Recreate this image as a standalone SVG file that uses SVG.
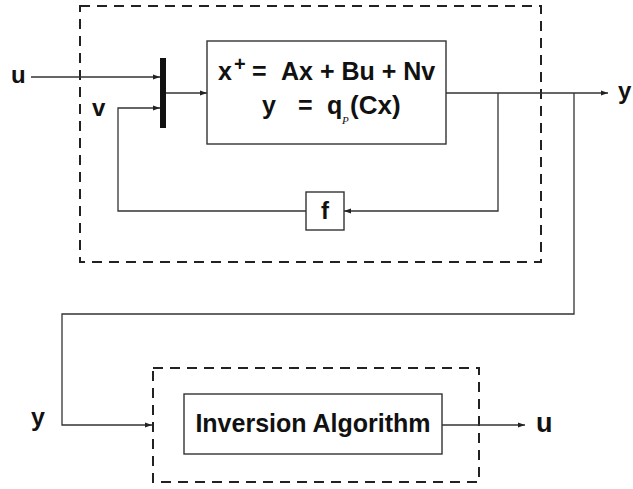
<svg xmlns="http://www.w3.org/2000/svg" width="633" height="489" viewBox="0 0 633 489">
<style>
.dash{fill:none;stroke:#222;stroke-width:2;stroke-dasharray:10 7}
.box{fill:#fff;stroke:#333;stroke-width:1.4}
.ln{fill:none;stroke:#333;stroke-width:1.3}
.t{font-family:"Liberation Sans",Arial,sans-serif;font-weight:bold;fill:#111}
</style>
<defs>
<marker id="ah" markerWidth="7" markerHeight="6" refX="7" refY="3" orient="auto" markerUnits="userSpaceOnUse">
<path d="M0,0.5 L7,3 L0,5.5 Z" fill="#222"/>
</marker>
</defs>
<rect width="633" height="489" fill="#fff"/>
<g id="system-boundary"><rect class="dash" x="80" y="6" width="461" height="256"/></g>
<g id="inversion-boundary"><rect class="dash" x="153" y="368" width="326" height="114"/></g>
<g id="connectors">
<path class="ln" d="M31,77 H160" marker-end="url(#ah)"/>
<path class="ln" d="M166,93 H207" marker-end="url(#ah)"/>
<path class="ln" d="M446,93 H608" marker-end="url(#ah)"/>
<path class="ln" d="M498,93 V211 H344" marker-end="url(#ah)"/>
<path class="ln" d="M306,211 H118 V108 H160" marker-end="url(#ah)"/>
<path class="ln" d="M574,93 V314 H62 V425 H152" marker-end="url(#ah)"/>
<path class="ln" d="M442,425 H525" marker-end="url(#ah)"/>
</g>
<g id="mux"><rect x="160" y="58" width="6" height="70" fill="#111"/></g>
<g id="system">
<rect class="box" x="207" y="41" width="239" height="103"/>
<text class="t" font-size="25" x="218" y="80">x</text>
<text class="t" font-size="20" x="234" y="71">+</text>
<text class="t" font-size="25" x="252" y="80">=</text>
<text class="t" font-size="25" x="281" y="80">Ax + Bu + Nv</text>
<text class="t" font-size="25" x="262" y="114">y</text>
<text class="t" font-size="25" x="298" y="114">=</text>
<text class="t" font-size="25" x="327" y="114">q</text>
<text font-family="'Liberation Serif',serif" font-style="italic" font-size="11" fill="#111" x="342" y="124">P</text>
<text class="t" font-size="26" x="350" y="114">(Cx)</text>
</g>
<g id="f">
<rect class="box" x="306" y="192" width="38" height="38"/>
<text class="t" font-size="24" x="325" y="219" text-anchor="middle">f</text>
</g>
<g id="inversion">
<rect class="box" x="184" y="394" width="258" height="60"/>
<text class="t" font-size="25" x="313" y="432" text-anchor="middle">Inversion Algorithm</text>
</g>
<g id="labels">
<text class="t" font-size="24" x="11" y="83">u</text>
<text class="t" font-size="24" x="92" y="116">v</text>
<text class="t" font-size="24" x="618" y="99">y</text>
<text class="t" font-size="25" x="31" y="426">y</text>
<text class="t" font-size="27" x="536" y="432">u</text>
</g>
</svg>
